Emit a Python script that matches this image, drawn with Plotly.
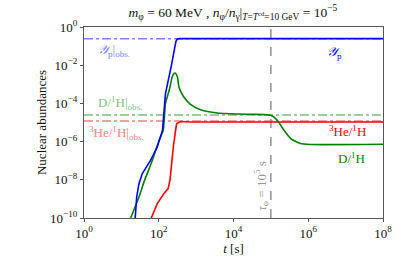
import plotly.graph_objects as go

# log10(t [s]) and log10(abundance)
yp_logt = [1.37, 1.41, 1.47, 1.56, 1.78, 1.96, 2.10, 2.18, 2.34, 2.43, 2.46, 2.50, 2.56, 8.0]
yp_logy = [-10.0, -8.9, -8.2, -7.68, -6.98, -6.28, -5.41, -3.49, -2.0, -1.05, -0.75, -0.63, -0.61, -0.61]

dh_logt = [1.25, 1.47, 1.62, 1.83, 2.0, 2.12, 2.18, 2.28, 2.36, 2.40, 2.43, 2.46, 2.50, 2.54, 2.60, 2.67, 2.85, 3.12, 3.57, 4.45, 4.90, 5.04, 5.17, 5.35, 5.53, 5.79, 6.06, 8.0]
dh_logy = [-10.0, -8.9, -8.03, -6.98, -5.98, -5.41, -4.0, -3.31, -2.62, -2.45, -2.41, -2.45, -2.62, -3.14, -3.42, -3.66, -4.05, -4.33, -4.5, -4.57, -4.59, -4.66, -4.88, -5.41, -5.84, -6.1, -6.15, -6.14]

he_logt = [1.80, 1.96, 2.14, 2.25, 2.30, 2.34, 2.39, 2.45, 2.48, 2.59, 2.85, 8.0]
he_logy = [-10.0, -9.25, -8.72, -8.46, -8.03, -7.15, -6.28, -5.41, -5.06, -4.95, -4.97, -4.97]

obs_yp = 0.245
obs_dh = 2.45e-5
obs_he = 1.2e-5
tau_phi = 1e5

x_ticks = [1, 1e2, 1e4, 1e6, 1e8]
x_ticktext = ["10<sup>0</sup>", "10<sup>2</sup>", "10<sup>4</sup>", "10<sup>6</sup>", "10<sup>8</sup>"]
y_ticks = [1, 1e-2, 1e-4, 1e-6, 1e-8, 1e-10]
y_ticktext = ["10<sup>0</sup>", "10<sup>−2</sup>", "10<sup>−4</sup>", "10<sup>−6</sup>", "10<sup>−8</sup>", "10<sup>−10</sup>"]

FONT = "Liberation Serif"
C_BLUE, C_GREEN, C_RED = "#0000ff", "#008000", "#ff0000"
L_BLUE, L_GREEN, L_RED = "#8080ff", "#7fbf7f", "#ff8080"

def pw(v):
    return [10 ** a for a in v]

fig = go.Figure()
xfull = [1, 1e8]
fig.add_trace(go.Scatter(x=xfull, y=[obs_yp] * 2, mode="lines", line=dict(color=L_BLUE, width=1.5, dash="dashdot")))
fig.add_trace(go.Scatter(x=xfull, y=[obs_dh] * 2, mode="lines", line=dict(color=L_GREEN, width=1.5, dash="dashdot")))
fig.add_trace(go.Scatter(x=xfull, y=[obs_he] * 2, mode="lines", line=dict(color=L_RED, width=1.5, dash="dashdot")))
fig.add_trace(go.Scatter(x=[tau_phi, tau_phi], y=[1e-10, 1], mode="lines", line=dict(color="#808080", width=1.3, dash="dash")))
fig.add_trace(go.Scatter(x=pw(he_logt), y=pw(he_logy), mode="lines", line=dict(color=C_RED, width=1.6)))
fig.add_trace(go.Scatter(x=pw(dh_logt), y=pw(dh_logy), mode="lines", line=dict(color=C_GREEN, width=1.6, shape="spline", smoothing=0.5)))
fig.add_trace(go.Scatter(x=pw(yp_logt), y=pw(yp_logy), mode="lines", line=dict(color=C_BLUE, width=1.6)))

def ann(x, y, text, color, xanchor="center", angle=0, size=13):
    fig.add_annotation(x=x, y=y, text=text, showarrow=False, xanchor=xanchor, yanchor="middle",
                       textangle=angle, font=dict(family=FONT, size=size, color=color))

ann(0.31, -1.22, "<i>𝒴</i><sub>p</sub>|<sub>obs.</sub>", L_BLUE, xanchor="left")
ann(6.71, -1.31, "<i>𝒴</i><sub>p</sub>", C_BLUE)
ann(0.31, -3.96, "D/<sup>1</sup>H|<sub>obs.</sub>", L_GREEN, xanchor="left")
ann(0.07, -5.55, "<sup>3</sup>He/<sup>1</sup>H|<sub>obs.</sub>", L_RED, xanchor="left")
ann(7.04, -5.44, "<sup>3</sup>He/<sup>1</sup>H", C_RED)
ann(7.16, -6.84, "D/<sup>1</sup>H", C_GREEN)
ann(4.75, -8.34, "<i>τ</i><sub>φ</sub> = 10<sup>5</sup> s", "#999999", angle=-90)

axis_common = dict(showline=True, linecolor="#555555", linewidth=1.2, mirror=True, showgrid=False,
                   zeroline=False, ticks="outside", ticklen=3, tickcolor="#555555",
                   tickfont=dict(family=FONT, size=13, color="#111111"))
fig.update_xaxes(type="log", range=[0, 8], tickvals=x_ticks, ticktext=x_ticktext,
                 title=dict(text="<i>t</i> [s]", font=dict(family=FONT, size=13, color="#111111"), standoff=4),
                 **axis_common)
fig.update_yaxes(type="log", range=[-10, 0], tickvals=y_ticks, ticktext=y_ticktext,
                 title=dict(text="Nuclear abundances", font=dict(family=FONT, size=13, color="#111111"), standoff=0),
                 **axis_common)
fig.update_layout(
    width=403, height=269, showlegend=False,
    paper_bgcolor="white", plot_bgcolor="white",
    margin=dict(l=84, r=20, t=27, b=51),
    title=dict(text="<i>m</i><sub>φ</sub> = 60 MeV , <i>n</i><sub>φ</sub>/<i>n</i><sub>γ</sub>|<sub><i>T</i>=<i>T</i><sup>cd</sup>=10 GeV</sub> = 10<sup>−5</sup>",
               x=0.578, xanchor="center", y=0.955, yanchor="middle",
               font=dict(family=FONT, size=13.5, color="#111111")),
)
fig.write_html("out.html", config={"displayModeBar": False},
               post_script="document.body.style.margin='0';document.body.style.overflow='hidden';")
